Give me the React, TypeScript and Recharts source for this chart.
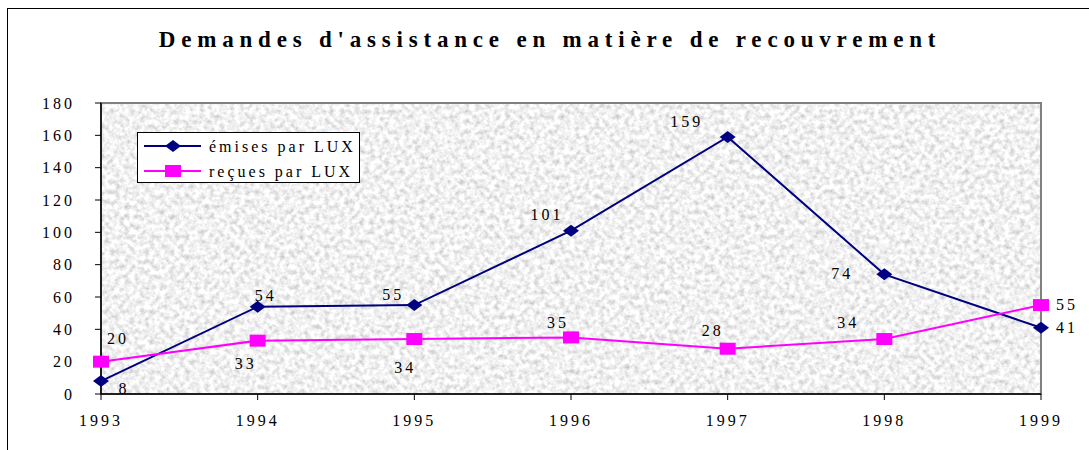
import React from 'react';
import {
  LineChart,
  Line,
  XAxis,
  YAxis,
  ReferenceArea,
  LabelList,
} from 'recharts';

const years = ['1993', '1994', '1995', '1996', '1997', '1998', '1999'];
const emises = [8, 54, 55, 101, 159, 74, 41];
const recues = [20, 33, 34, 35, 28, 34, 55];
const yTicks = [0, 20, 40, 60, 80, 100, 120, 140, 160, 180];

// where each value label sits relative to its point (dx, dy)
const emisesLabelOffsets = [[23, 7], [8, -11], [-21, -11], [-24, -16], [-41, -15], [-42, -1], [26, 0]];
const recuesLabelOffsets = [[17, -23], [-12, 23], [-9, 28], [-13, -15], [-15, -18], [-36, -17], [26, -1]];

const data = years.map((year, i) => ({ year, emises: emises[i], recues: recues[i] }));

const FONT = "'Liberation Serif', 'Times New Roman', serif";
const NAVY = '#000080';
const MAGENTA = '#FF00FF';

const Diamond = ({ cx, cy }: any) => (
  <path d={`M${cx - 8},${cy} L${cx},${cy - 6} L${cx + 8},${cy} L${cx},${cy + 6} Z`} fill={NAVY} />
);

const Square = ({ cx, cy }: any) => (
  <rect x={cx - 8} y={cy - 6} width={16} height={12} fill={MAGENTA} />
);

const makeLabel = (offsets: number[][]) => (props: any) => {
  const { x, y, index, value } = props;
  const [dx, dy] = offsets[index] || [0, -12];
  return (
    <text
      x={x + dx}
      y={y + dy}
      textAnchor="middle"
      dominantBaseline="central"
      style={{ fontFamily: FONT, fontSize: 16, letterSpacing: 3 }}
      fill="#000"
    >
      {value}
    </text>
  );
};

const tickStyle = { fontSize: 16, fontFamily: FONT, fill: '#000', letterSpacing: 3 };

export default function App() {
  return (
    <div
      style={{
        position: 'absolute',
        left: 0,
        top: 0,
        width: 1089,
        height: 450,
        background: '#fff',
        overflow: 'hidden',
        fontFamily: FONT,
      }}
    >
      <svg width={0} height={0} style={{ position: 'absolute' }}>
        <defs>
          <filter id="noise" x="0" y="0" width="100%" height="100%">
            <feTurbulence type="fractalNoise" baseFrequency="0.2" numOctaves={3} seed={7} />
            <feColorMatrix
              type="matrix"
              values="0.8 0 0 0 0.48  0.8 0 0 0 0.48  0.8 0 0 0 0.48  0 0 0 0 1"
            />
          </filter>
          <pattern id="tex" patternUnits="userSpaceOnUse" width={1089} height={450}>
            <rect width={1089} height={450} filter="url(#noise)" />
          </pattern>
        </defs>
      </svg>

      <div
        style={{
          position: 'absolute',
          left: 7,
          top: 8,
          width: 1200,
          height: 600,
          borderLeft: '1.5px solid #000',
          borderTop: '1.5px solid #000',
        }}
      />

      <div
        style={{
          position: 'absolute',
          left: 0,
          top: 27,
          width: 1100,
          textAlign: 'center',
          fontSize: 23,
          fontWeight: 'bold',
          letterSpacing: 5.8,
        }}
      >
        Demandes d'assistance en matière de recouvrement
      </div>

      <div style={{ position: 'absolute', left: 0, top: 0 }}>
        <LineChart width={1089} height={450} data={data} margin={{ top: 103, right: 48, left: 0, bottom: 26 }}>
          <ReferenceArea
            x1="1993"
            x2="1999"
            y1={0}
            y2={180}
            fill="url(#tex)"
            fillOpacity={1}
            stroke="#808080"
            strokeWidth={2}
          />
          <XAxis
            dataKey="year"
            interval={0}
            tickSize={6}
            tickMargin={15}
            height={30}
            axisLine={{ stroke: '#000', strokeWidth: 1.5 }}
            tickLine={{ stroke: '#000' }}
            tick={tickStyle}
          />
          <YAxis
            domain={[0, 180]}
            ticks={yTicks}
            interval={0}
            width={101}
            tickSize={6}
            tickMargin={20}
            axisLine={{ stroke: '#000', strokeWidth: 1.5 }}
            tickLine={{ stroke: '#000' }}
            tick={tickStyle}
          />
          <Line
            type="linear"
            dataKey="emises"
            stroke={NAVY}
            strokeWidth={2}
            dot={<Diamond />}
            activeDot={false}
            isAnimationActive={false}
          >
            <LabelList dataKey="emises" content={makeLabel(emisesLabelOffsets)} />
          </Line>
          <Line
            type="linear"
            dataKey="recues"
            stroke={MAGENTA}
            strokeWidth={2}
            dot={<Square />}
            activeDot={false}
            isAnimationActive={false}
          >
            <LabelList dataKey="recues" content={makeLabel(recuesLabelOffsets)} />
          </Line>
        </LineChart>
      </div>

      <div
        style={{
          position: 'absolute',
          left: 137,
          top: 132,
          width: 223,
          height: 51,
          background: '#fff',
          border: '1px solid #000',
          boxSizing: 'border-box',
        }}
      >
        <svg width={223} height={51} style={{ position: 'absolute', left: 0, top: 0 }}>
          <line x1={6} y1={13} x2={63} y2={13} stroke={NAVY} strokeWidth={2} />
          <path d="M27,13 L35,7 L43,13 L35,19 Z" fill={NAVY} />
          <line x1={6} y1={38} x2={63} y2={38} stroke={MAGENTA} strokeWidth={2} />
          <rect x={27} y={32} width={16} height={12} fill={MAGENTA} />
          <text x={71} y={13} dominantBaseline="central" style={{ fontFamily: FONT, fontSize: 16, letterSpacing: 3 }}>
            émises par LUX
          </text>
          <text x={71} y={38} dominantBaseline="central" style={{ fontFamily: FONT, fontSize: 16, letterSpacing: 3 }}>
            reçues par LUX
          </text>
        </svg>
      </div>
    </div>
  );
}
